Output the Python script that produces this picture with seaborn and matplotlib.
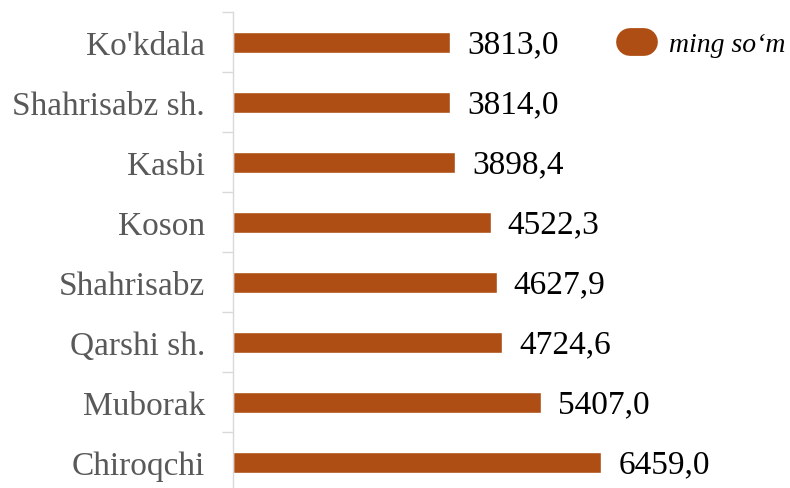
import seaborn as sns
import matplotlib.pyplot as plt
import numpy as np
import pandas as pd
from matplotlib.lines import Line2D

regions = ["Ko'kdala", "Shahrisabz sh.", "Kasbi", "Koson", "Shahrisabz",
           "Qarshi sh.", "Muborak", "Chiroqchi"]
values = [3813.0, 3814.0, 3898.4, 4522.3, 4627.9, 4724.6, 5407.0, 6459.0]
legend_label = "ming so\u2018m"

bar_color = "#AE4E14"
df = pd.DataFrame({"region": regions, "value": values})

sns.set_style("white")
plt.rcParams['font.family'] = ['Liberation Serif', 'DejaVu Serif']

fig = plt.figure(figsize=(7.9, 4.89), dpi=100)
ax = fig.add_axes([233 / 790, -4 / 489, 557 / 790, 480 / 489])

sns.barplot(data=df, x="value", y="region", order=regions, orient="h",
            color=bar_color, width=0.35, ax=ax, saturation=1)

ax.set_xlim(0, 9775)
ax.set_ylim(7.5, -0.5)
ax.set_xlabel("")
ax.set_ylabel("")
ax.set_xticks([])

for s in ["top", "right", "bottom"]:
    ax.spines[s].set_visible(False)
ax.spines["left"].set_color("#d9d9d9")
ax.spines["left"].set_linewidth(1.0)

ax.set_yticks(np.arange(-0.5, 8.0, 1.0), minor=True)
ax.tick_params(axis="y", which="major", left=True, length=0, pad=20,
               labelsize=24, labelcolor="#595959")
ax.tick_params(axis="y", which="minor", left=True, length=8,
               color="#d9d9d9", width=1.0)

for i, v in enumerate(values):
    ax.text(v + 300, i + 0.04, f"{v:.1f}".replace(".", ","), va="center",
            ha="left", fontsize=24, color="black")

handle = Line2D([0], [0], color=bar_color, linewidth=20, solid_capstyle="round")
leg = ax.legend([handle], [legend_label], loc="upper right",
                bbox_to_anchor=(1.0215, 0.993), frameon=False, handlelength=0.5,
                handletextpad=0.9, borderaxespad=0.2,
                prop={"style": "italic", "size": 20})
for t in leg.get_texts():
    t.set_color("black")

fig.savefig("out.png", dpi=100)
